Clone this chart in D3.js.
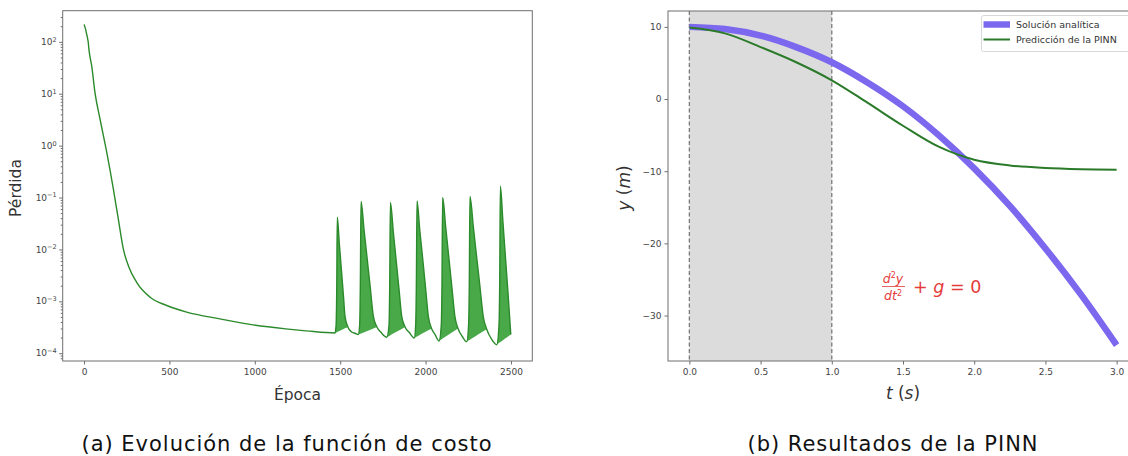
<!DOCTYPE html>
<html>
<head>
<meta charset="utf-8">
<script src="https://cdn.jsdelivr.net/npm/d3@7"></script>
<style>
  body { margin: 0; background: #fff; }
  svg { display: block; }
  text { font-family: "DejaVu Sans", sans-serif; }
</style>
</head>
<body>
<svg id="fig" width="1128" height="456"></svg>
<script>
// ---------- Panel (a): training loss per epoch ----------
// smooth descent before the instabilities start
const lossWarmup = [
  [0, 215], [8, 180], [16, 138], [22, 110], [25, 96], [28, 75], [31, 62],
  [45, 34], [64, 10.5], [94, 3.2], [133, 0.74], [172, 0.144], [201, 0.038],
  [230, 0.0102], [260, 0.0048], [309, 0.0023], [387, 0.0012], [484, 0.00083],
  [601, 0.00062], [796, 0.00046], [972, 0.00036], [1181, 0.000295],
  [1300, 0.00027], [1470, 0.000245]
];
// each run: sudden jump, oscillating decay, back to the floor
const lossSpikes = [
  [[1476, 3.5e-4], [1480, 2e-3], [1483, 0.042], [1495, 0.0129], [1508, 3.7e-3], [1520, 1.15e-3], [1528, 5.2e-4], [1545, 3.2e-4], [1565, 2.6e-4], [1590, 2.4e-4], [1606, 2.28e-4]],
  [[1614, 3.5e-4], [1618, 2e-3], [1622, 0.084], [1640, 0.0234], [1658, 6.6e-3], [1676, 1.86e-3], [1694, 5.2e-4], [1715, 3.2e-4], [1740, 2.5e-4], [1773, 2.03e-4]],
  [[1786, 3.5e-4], [1790, 2e-3], [1794, 0.080], [1811, 0.0219], [1827, 6.5e-3], [1844, 1.78e-3], [1860, 5.2e-4], [1880, 3.2e-4], [1905, 2.5e-4], [1934, 1.97e-4]],
  [[1942, 3.5e-4], [1946, 2e-3], [1950, 0.086], [1966, 0.0235], [1983, 6.7e-3], [2000, 1.8e-3], [2016, 5.2e-4], [2035, 3.0e-4], [2055, 2.3e-4], [2079, 1.72e-4]],
  [[2092, 3.5e-4], [2096, 2e-3], [2100, 0.100], [2118, 0.0266], [2136, 7.1e-3], [2154, 1.88e-3], [2172, 5.0e-4], [2190, 3.0e-4], [2215, 2.1e-4], [2241, 1.67e-4]],
  [[2252, 3.5e-4], [2256, 2e-3], [2260, 0.105], [2280, 0.0266], [2299, 7.2e-3], [2319, 1.85e-3], [2338, 5.0e-4], [2358, 2.9e-4], [2385, 1.9e-4], [2417, 1.46e-4]],
  [[2430, 3.5e-4], [2434, 2e-3], [2438, 0.165], [2453, 0.034], [2468, 6.8e-3], [2483, 1.4e-3], [2499, 2.3e-4]]
];
const bandCutoff = 3.3e-4;   // the oscillation band ends once the decay drops below this
const tickEpochs = [0, 500, 1000, 1500, 2000, 2500];
const tickDecades = [-4, -3, -2, -1, 0, 1, 2];

// ---------- Panel (b): free fall, exact vs network ----------
const timeGrid  = [0, 0.25, 0.5, 0.75, 1.0, 1.25, 1.5, 1.75, 2.0, 2.25, 2.5, 2.75, 3.0];
const yAnalytic = [10, 9.7, 8.8, 7.2, 5.1, 2.3, -1.0, -5.0, -9.6, -14.8, -20.7, -27.1, -34.1];
const yPinn     = [9.9, 9.1, 7.2, 5.1, 2.6, -0.5, -3.7, -6.6, -8.4, -9.2, -9.55, -9.72, -9.8];
const tickTimes = [0, 0.5, 1.0, 1.5, 2.0, 2.5, 3.0];
const tickHeights = [10, 0, -10, -20, -30];
const trainWindow = [0, 1];
const legendLabels = ["Solución analítica", "Predicción de la PINN"];
const captions = ["(a) Evolución de la función de costo", "(b) Resultados de la PINN"];

const C = {
  frame: "#6f6f6f", tick: "#444", loss: "#2b8a2b", lossFill: "#35a035",
  exact: "#7b68ee", pinn: "#2a7a2a", shade: "#dcdcdc", dash: "#7a7a7a", eq: "#e53b3b"
};

const svg = d3.select("#fig");

// ================= Panel (a) =================
const A = { x0: 62.7, x1: 532.3, y0: 10.7, y1: 361 };
const xL = d3.scaleLinear([-125, 2625], [A.x0, A.x1]);
const yL = d3.scaleLog([Math.pow(10, -4.15), Math.pow(10, 2.6)], [A.y1, A.y0]);
const gA = svg.append("g");

// oscillation band: between the spike envelope and the chord from the
// preceding valley to the end of the decay
lossSpikes.forEach((run, i) => {
  const prev = i === 0 ? lossWarmup : lossSpikes[i - 1];
  const start = prev[prev.length - 1];
  const peak = d3.maxIndex(run, d => d[1]);
  let j = run.findIndex((d, k) => k > peak && d[1] <= bandCutoff);
  if (j < 0) j = run.length - 1;
  const pts = [start, ...run.slice(0, j + 1)];
  const end = run[j];
  const chord = d3.scaleLinear([start[0], end[0]], [yL(start[1]), yL(end[1])]);
  const band = d3.area()
    .x(d => xL(d[0]))
    .y0(d => Math.max(yL(d[1]), chord(d[0])))
    .y1(d => yL(d[1]))
    .curve(d3.curveMonotoneX);
  gA.append("path")
    .attr("d", band(pts))
    .attr("fill", C.lossFill)
    .attr("fill-opacity", 0.9);
});

// full loss trace
const trace = lossWarmup.concat(...lossSpikes);
gA.append("path")
  .attr("d", d3.line().x(d => xL(d[0])).y(d => yL(d[1])).curve(d3.curveMonotoneX)(trace))
  .attr("fill", "none")
  .attr("stroke", C.loss)
  .attr("stroke-width", 1.4)
  .attr("stroke-linejoin", "round");

// x axis
gA.append("g").attr("transform", `translate(0,${A.y1})`)
  .call(d3.axisBottom(xL).tickValues(tickEpochs).tickSize(3.5).tickPadding(4).tickFormat(d3.format("d")));
// y axis: major + minor log ticks
const majors = tickDecades.map(k => Math.pow(10, k));
const minors = [];
for (let k = -5; k <= 2; k++) for (let m = 2; m <= 9; m++) {
  const v = m * Math.pow(10, k);
  if (v >= yL.domain()[0] && v <= yL.domain()[1]) minors.push(v);
}
gA.append("g").attr("transform", `translate(${A.x0},0)`)
  .call(d3.axisLeft(yL).tickValues(minors).tickSize(2).tickFormat(""));
gA.append("g").attr("transform", `translate(${A.x0},0)`)
  .call(d3.axisLeft(yL).tickValues(majors).tickSize(3.5).tickFormat(""));
tickDecades.forEach(k => {
  const t = gA.append("text")
    .attr("x", A.x0 - 6).attr("y", yL(Math.pow(10, k)))
    .attr("dy", "0.35em").attr("text-anchor", "end")
    .attr("font-size", "9px").attr("fill", C.tick);
  t.append("tspan").text("10");
  t.append("tspan").attr("dy", "-0.5em").attr("font-size", "6.5px")
    .text(k < 0 ? "\u2212" + (-k) : String(k));
});

// frame
gA.append("rect").attr("x", A.x0).attr("y", A.y0)
  .attr("width", A.x1 - A.x0).attr("height", A.y1 - A.y0)
  .attr("fill", "none").attr("stroke", C.frame).attr("stroke-width", 1);

gA.append("text").attr("x", (A.x0 + A.x1) / 2).attr("y", 400)
  .attr("text-anchor", "middle").attr("font-size", "15.5px").attr("fill", "#333").text("Época");
gA.append("text").attr("transform", `translate(21,188) rotate(-90)`)
  .attr("text-anchor", "middle").attr("font-size", "15.5px").attr("fill", "#333").text("Pérdida");

// ================= Panel (b) =================
const B = { x0: 668, x1: 1138, y0: 11, y1: 361 };
const xR = d3.scaleLinear([-0.15, 3.15], [B.x0, B.x1]);
const yR = d3.scaleLinear([-36.3, 12.2], [B.y1, B.y0]);
const gB = svg.append("g");

// training window
gB.append("rect")
  .attr("x", xR(trainWindow[0])).attr("y", B.y0)
  .attr("width", xR(trainWindow[1]) - xR(trainWindow[0])).attr("height", B.y1 - B.y0)
  .attr("fill", C.shade);
trainWindow.forEach(t => {
  gB.append("line").attr("x1", xR(t)).attr("x2", xR(t)).attr("y1", B.y0).attr("y2", B.y1)
    .attr("stroke", C.dash).attr("stroke-width", 1.3).attr("stroke-dasharray", "4,2.5");
});

const lineB = d3.line().x(d => xR(d[0])).y(d => yR(d[1])).curve(d3.curveCatmullRom.alpha(0.5));
gB.append("path").attr("d", lineB(timeGrid.map((t, i) => [t, yAnalytic[i]])))
  .attr("fill", "none").attr("stroke", C.exact).attr("stroke-width", 6.5);
gB.append("path").attr("d", lineB(timeGrid.map((t, i) => [t, yPinn[i]])))
  .attr("fill", "none").attr("stroke", C.pinn).attr("stroke-width", 2);

gB.append("g").attr("transform", `translate(0,${B.y1})`)
  .call(d3.axisBottom(xR).tickValues(tickTimes).tickSize(3.5).tickPadding(4).tickFormat(d3.format(".1f")));
gB.append("g").attr("transform", `translate(${B.x0},0)`)
  .call(d3.axisLeft(yR).tickValues(tickHeights).tickSize(3.5).tickPadding(3).tickFormat(d3.format("d")));

gB.append("rect").attr("x", B.x0).attr("y", B.y0)
  .attr("width", B.x1 - B.x0).attr("height", B.y1 - B.y0)
  .attr("fill", "none").attr("stroke", C.frame).attr("stroke-width", 1);

// legend
const lg = gB.append("g").attr("transform", "translate(981.5,15.5)");
lg.append("rect").attr("width", 160).attr("height", 36).attr("rx", 2)
  .attr("fill", "#fff").attr("fill-opacity", 0.85).attr("stroke", "#d8d8d8");
[[C.exact, 6.5], [C.pinn, 2]].forEach(([col, w], i) => {
  const y = 9 + i * 15;
  lg.append("line").attr("x1", 2).attr("x2", 28.5).attr("y1", y).attr("y2", y)
    .attr("stroke", col).attr("stroke-width", w);
  lg.append("text").attr("x", 34.5).attr("y", y).attr("dy", "0.35em")
    .attr("font-size", "9.5px").attr("fill", "#333").text(legendLabels[i]);
});

// governing equation
const eq = gB.append("g").attr("fill", C.eq).attr("font-style", "italic");
eq.append("text").attr("x", 893).attr("y", 282.5).attr("text-anchor", "middle").attr("font-size", "12.5px")
  .html('d<tspan dy="-4.5" font-size="8px" font-style="normal">2</tspan><tspan dy="4.5">y</tspan>');
eq.append("line").attr("x1", 882).attr("x2", 905).attr("y1", 286.5).attr("y2", 286.5)
  .attr("stroke", C.eq).attr("stroke-width", 0.8);
eq.append("text").attr("x", 893).attr("y", 300).attr("text-anchor", "middle").attr("font-size", "12.5px")
  .html('dt<tspan dy="-4.5" font-size="8px" font-style="normal">2</tspan>');
eq.append("text").attr("x", 913).attr("y", 293).attr("font-size", "17.5px")
  .html('<tspan font-style="normal">+ </tspan>g<tspan font-style="normal"> = 0</tspan>');

gB.append("text").attr("x", 903).attr("y", 399).attr("text-anchor", "middle")
  .attr("font-size", "17px").attr("font-style", "italic").attr("fill", "#333")
  .html('t <tspan font-style="normal">(</tspan>s<tspan font-style="normal">)</tspan>');
gB.append("text").attr("transform", "translate(630,188) rotate(-90)").attr("text-anchor", "middle")
  .attr("font-size", "17px").attr("font-style", "italic").attr("fill", "#333")
  .html('y <tspan font-style="normal">(</tspan>m<tspan font-style="normal">)</tspan>');

// common tick styling
svg.selectAll(".tick text").attr("font-size", "9px").attr("fill", C.tick).attr("font-family", "DejaVu Sans, sans-serif");
svg.selectAll(".tick line").attr("stroke", C.frame);
svg.selectAll(".domain").remove();

// ---------- sub-figure captions ----------
const capX = [287, 893];
const capNodes = captions.map((c, i) =>
  svg.append("text").attr("x", capX[i]).attr("y", 451).attr("text-anchor", "middle")
    .attr("font-family", "Lato, 'Open Sans', sans-serif").attr("font-size", "21px")
    .attr("fill", "#111").text(c));
// spread letters so the first caption spans its column
const raw = capNodes[0].node().getComputedTextLength();
const spacing = (411 - raw) / captions[0].length;
capNodes.forEach(n => n.attr("letter-spacing", spacing.toFixed(2) + "px"));
</script>
</body>
</html>
